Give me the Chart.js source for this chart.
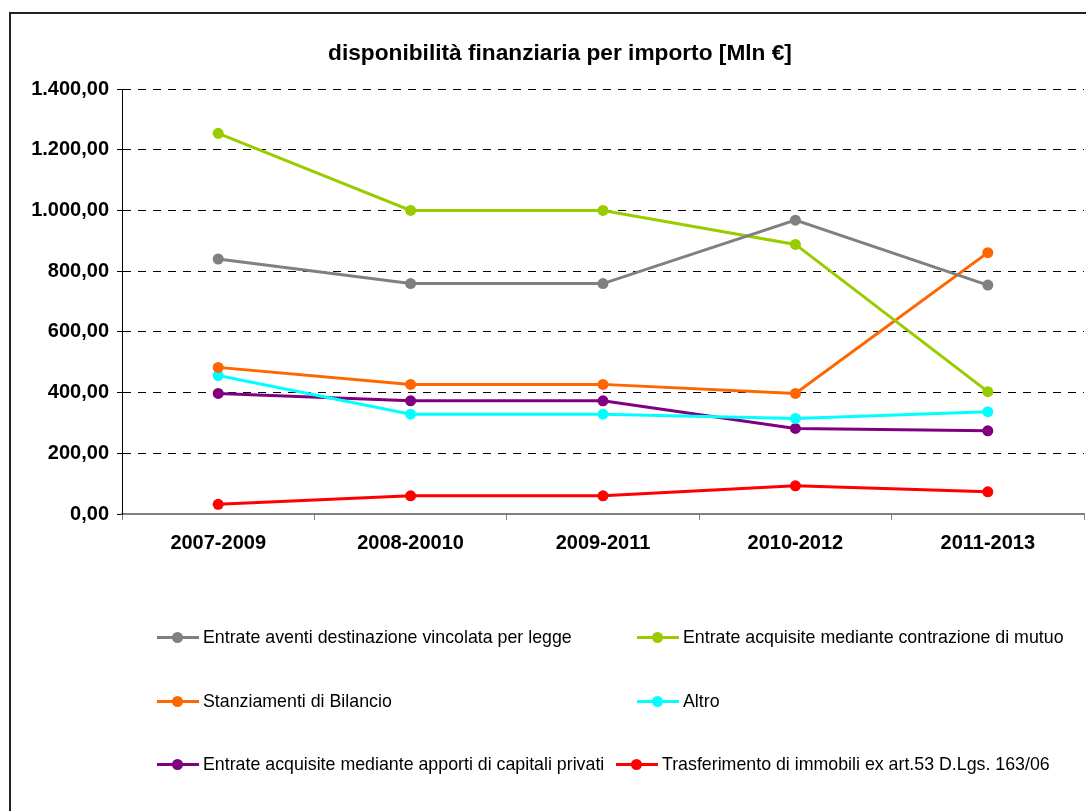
<!DOCTYPE html>
<html>
<head>
<meta charset="utf-8">
<script src="https://cdn.jsdelivr.net/npm/chart.js@4"></script>
<style>
  html, body { margin: 0; padding: 0; background: #fff; overflow: hidden; }
  body { width: 1086px; height: 811px; position: relative; font-family: "Liberation Sans", Arial, sans-serif; }
  .frame { position: absolute; left: 9px; top: 12px; width: 1200px; height: 900px; border-left: 2px solid #222; border-top: 2px solid #222; }
  .wrap { position: absolute; left: 9px; top: 12px; width: 1102px; height: 800px; }
  .item { position: absolute; display: flex; align-items: center; font-size: 17.8px; color: #000; white-space: nowrap; height: 20px; }
  .mark { position: relative; width: 42px; height: 3px; margin-right: 4px; }
  .mark i { position: absolute; left: 15px; top: -4px; width: 11px; height: 11px; border-radius: 50%; }
</style>
</head>
<body>
<div class="frame"></div>
<div class="wrap"><canvas id="chart"></canvas></div>
<div id="legend"></div>
<script>
// dati
const categories = ['2007-2009', '2008-20010', '2009-2011', '2010-2012', '2011-2013'];
const seriesNames = [
  'Entrate aventi destinazione vincolata per legge',
  'Entrate acquisite mediante contrazione di mutuo',
  'Stanziamenti di Bilancio',
  'Altro',
  'Entrate acquisite mediante apporti di capitali privati',
  'Trasferimento di immobili ex art.53 D.Lgs. 163/06'
];
const vincolata = [840, 759, 759, 968, 754];
const mutuo = [1254, 1000, 1000, 888, 403];
const bilancio = [483, 427, 427, 397, 861];
const altro = [456, 329, 329, 315, 337];
const privati = [397, 373, 373, 282, 274];
const immobili = [32, 60, 60, 93, 73];
const seriesColors = ['#808080', '#99CC00', '#FF6600', '#00FFFF', '#800080', '#FF0000'];
const titleText = 'disponibilità finanziaria per importo [Mln €]';
const yMax = 1400;
const yStep = 200;

const allValues = [vincolata, mutuo, bilancio, altro, privati, immobili];

function formatIt(v) {
  const parts = v.toFixed(2).split('.');
  return parts[0].replace(/\B(?=(\d{3})+(?!\d))/g, '.') + ',' + parts[1];
}

const datasets = allValues.map((values, i) => ({
  label: seriesNames[i],
  data: values,
  borderColor: seriesColors[i],
  backgroundColor: seriesColors[i],
  borderWidth: 3,
  pointRadius: 5.5,
  pointHoverRadius: 5.5,
  pointBorderWidth: 0,
  tension: 0
}));

const font = '"Liberation Sans", Arial, sans-serif';

// il titolo in Excel e' centrato sull'intero riquadro, non sull'area del grafico
const titlePlugin = {
  id: 'excelTitle',
  afterDraw(chart) {
    const ctx = chart.ctx;
    ctx.save();
    ctx.font = 'bold 22.7px ' + font;
    ctx.fillStyle = '#000';
    ctx.textAlign = 'center';
    ctx.textBaseline = 'middle';
    ctx.fillText(titleText, 551, 42);
    ctx.restore();
  }
};

new Chart(document.getElementById('chart'), {
  type: 'line',
  data: { labels: categories, datasets: datasets },
  plugins: [titlePlugin],
  options: {
    responsive: true,
    maintainAspectRatio: false,
    animation: false,
    layout: { padding: { top: 77, right: 27, bottom: 253, left: 0 } },
    plugins: {
      legend: { display: false },
      tooltip: { enabled: false },
      title: { display: false }
    },
    scales: {
      x: {
        offset: true,
        afterFit: s => { s.height = 45; },
        border: { color: '#808080', width: 2 },
        grid: { drawOnChartArea: false, drawTicks: true, tickLength: 6, tickColor: '#808080', offset: true },
        ticks: { color: '#000', padding: 11, font: { family: font, size: 20, weight: 'bold' } }
      },
      y: {
        min: 0,
        max: yMax,
        afterFit: s => { s.width = 113; },
        border: { color: '#000', width: 1, dash: [8, 7] },
        grid: {
          color: ctx => (ctx.tick && ctx.tick.value === 0 ? 'rgba(0,0,0,0)' : '#000'),
          lineWidth: 1,
          tickLength: 5,
          tickColor: '#000'
        },
        ticks: {
          stepSize: yStep,
          color: '#000',
          padding: 8,
          font: { family: font, size: 20, weight: 'bold' },
          callback: v => formatIt(v)
        }
      }
    }
  }
});

// legenda in basso, disposta come nell'originale
const legendSlots = [
  [157, 637], [637, 637],
  [157, 701], [637, 701],
  [157, 764], [616, 764]
];
const legend = document.getElementById('legend');
seriesNames.forEach((name, i) => {
  const item = document.createElement('div');
  item.className = 'item';
  item.style.left = legendSlots[i][0] + 'px';
  item.style.top = (legendSlots[i][1] - 10) + 'px';
  const mark = document.createElement('span');
  mark.className = 'mark';
  mark.style.background = seriesColors[i];
  const dot = document.createElement('i');
  dot.style.background = seriesColors[i];
  mark.appendChild(dot);
  const text = document.createElement('span');
  text.textContent = name;
  item.appendChild(mark);
  item.appendChild(text);
  legend.appendChild(item);
});
</script>
</body>
</html>
